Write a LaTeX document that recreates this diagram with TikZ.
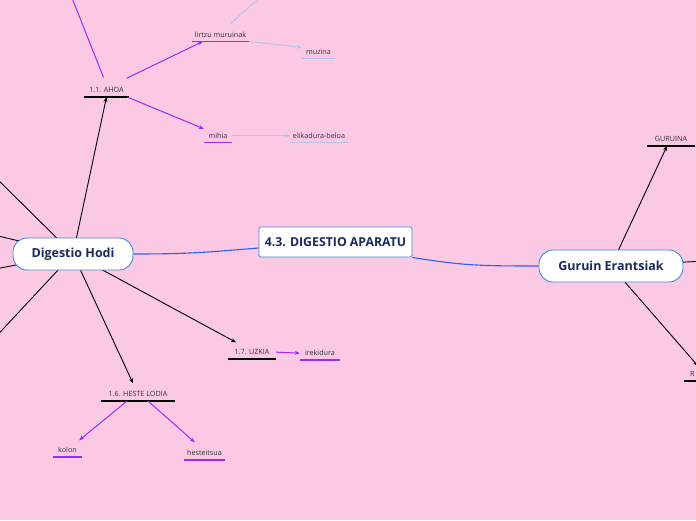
\documentclass[tikz,border=0pt]{standalone}
\usepackage{fontspec}
\setmainfont{Open Sans}
\usetikzlibrary{arrows.meta}
\definecolor{bgpink}{RGB}{252,201,228}
\definecolor{purp}{RGB}{160,40,245}
\definecolor{lblue}{RGB}{180,196,232}
\definecolor{navy}{RGB}{26,42,92}
\definecolor{nborder}{RGB}{60,140,212}
\definecolor{conblue}{RGB}{45,95,245}
\definecolor{txtgray}{RGB}{50,50,55}
\begin{document}
\begin{tikzpicture}[x=1pt,y=-1pt,
  lbl/.style={font=\fontsize{7.2}{8}\selectfont, text=txtgray, inner xsep=0pt, inner ysep=4pt, anchor=south, text depth=0pt, text height=5.3pt},
  ulblack/.style={draw=black, line width=1.8pt},
  ulpurp/.style={draw=purp, line width=1.8pt},
  ulblue/.style={draw=lblue, line width=1.3pt},
  blk/.style={draw=black, line width=0.9pt},
  blkarr/.style={blk, -{Stealth[length=5pt,width=4pt]}},
  purpline/.style={draw=purp, line width=1pt},
  purparr/.style={purpline, -{Stealth[length=5pt,width=4pt]}},
  bluline/.style={draw=lblue, line width=1pt},
  bluarr/.style={bluline, -{Stealth[length=5pt,width=4pt]}},
  conn/.style={draw=conblue, line width=1.1pt},
  mainnode/.style={draw=nborder, line width=0.9pt, fill=white, text=navy, font=\bfseries\fontsize{12.5}{14}\selectfont, rounded corners=14pt, minimum height=32pt, inner sep=0pt},
  rootnode/.style={draw=nborder, line width=0.9pt, fill=white, text=navy, font=\bfseries\fontsize{12.3}{14}\selectfont, rounded corners=1.5pt, minimum height=30pt, minimum width=153pt, inner sep=0pt}
]
\fill[bgpink] (0,0) rectangle (696,520);
\useasboundingbox (0,0) rectangle (696,520);
\clip (0,0) rectangle (696,520);

% label nodes
\node[lbl, minimum width=45pt] (ahoa) at (106.5,97) {1.1. AHOA};
\node[lbl, minimum width=57pt] (lirtzu) at (220.5,41.5) {lirtzu muruinak};
\node[lbl, minimum width=33pt] (muzina) at (318.5,58.5) {muzina};
\node[lbl, minimum width=28pt] (mihia) at (218,142.5) {mihia};
\node[lbl, minimum width=58pt] (elik) at (319,142.5) {elikadura-beloa};
\node[lbl, minimum width=48pt] (uzkia) at (252,359) {1.7. UZKIA};
\node[lbl, minimum width=40pt] (ireki) at (320,360) {irekidura};
\node[lbl, minimum width=74pt] (heste) at (138,401) {1.6. HESTE LODIA};
\node[lbl, minimum width=29pt] (kolon) at (67.5,457) {kolon};
\node[lbl, minimum width=41pt] (hestei) at (204.5,460) {hesteitsua};
\node[lbl, minimum width=48pt] (guruina) at (671,146) {GURUINA};
\node[lbl, anchor=south west, inner xsep=6pt] (rr) at (684,381) {R};

% underlines
\draw[ulblack] (ahoa.south west) -- (ahoa.south east);
\draw[ulpurp] (lirtzu.south west) -- (lirtzu.south east);
\draw[ulblue] (muzina.south west) -- (muzina.south east);
\draw[ulpurp] (mihia.south west) -- (mihia.south east);
\draw[ulblue] (elik.south west) -- (elik.south east);
\draw[ulblack] (uzkia.south west) -- (uzkia.south east);
\draw[ulpurp] (ireki.south west) -- (ireki.south east);
\draw[ulblack] (heste.south west) -- (heste.south east);
\draw[ulpurp] (kolon.south west) -- (kolon.south east);
\draw[ulpurp] (hestei.south west) -- (hestei.south east);
\draw[ulblack] (guruina.south west) -- (guruina.south east);
\draw[ulblack] (rr.south west) -- ++(20,0);

% centres and free ends
\coordinate (hodiC) at (73,254);
\coordinate (guruC) at (611,266);
\coordinate (rootC) at (335.5,242);
\coordinate (fUL) at (-10,172);
\coordinate (fL) at (-10,234);
\coordinate (fLL) at (-10,270);
\coordinate (fDL) at (-10,343);
\coordinate (fAhoaUp) at (72,-2);
\coordinate (fLirtzuUp) at (259,-2);
\coordinate (fR) at (705,261);
\coordinate (fDR) at (698,366);

% black connectors from Digestio Hodi
\draw[blkarr] (hodiC) -- (ahoa.south);
\draw[blk] (hodiC) -- (fUL);
\draw[blk] (hodiC) -- (fL);
\draw[blk] (hodiC) -- (fLL);
\draw[blk] (hodiC) -- (fDL);
\draw[blkarr] (hodiC) -- ([xshift=-5pt,yshift=4pt]heste.north);
\draw[blkarr] (hodiC) -- ([xshift=-16pt,yshift=3pt]uzkia.north);

% black connectors from Guruin Erantsiak
\draw[blkarr] (guruC) -- ([xshift=-4pt]guruina.south);
\draw[blk] (guruC) -- (fR);
\draw[blkarr] (guruC) -- (fDR);

% purple / light blue
\draw[purpline] ([xshift=-3pt,yshift=6pt]ahoa.north) -- (fAhoaUp);
\draw[purparr] ([xshift=20pt,yshift=5pt]ahoa.north) -- ([xshift=11pt]lirtzu.south west);
\draw[purparr] ([xshift=-2pt]ahoa.south east) -- (mihia.north west);
\draw[bluline] ([xshift=10.5pt,yshift=4.5pt]lirtzu.north) -- (fLirtzuUp);
\draw[bluarr] (lirtzu.south east) -- ([yshift=-2.5pt]muzina.north west);
\draw[bluarr] (mihia.east) -- (elik.west);
\draw[purparr] (uzkia.east) -- (ireki.west);
\draw[purparr] ([xshift=-11pt]heste.south) -- ([xshift=-3pt,yshift=3pt]kolon.north east);
\draw[purparr] ([xshift=10pt]heste.south) -- ([xshift=11pt,yshift=4pt]hestei.north west);

% main nodes
\node[mainnode, minimum width=120pt] (hodi) at (hodiC) {Digestio Hodi};
\node[mainnode, minimum width=144pt] (guruin) at (guruC) {Guruin Erantsiak};
\node[rootnode] (root) at (rootC) {4.3. DIGESTIO APARATU};

% blue connectors
\draw[conn] (hodi.east) .. controls +(60,0) and +(-50,4) .. ([yshift=-6pt]root.west);
\draw[conn] (root.south east) .. controls +(50,8) and +(-60,0) .. (guruin.west);
\end{tikzpicture}
\end{document}
